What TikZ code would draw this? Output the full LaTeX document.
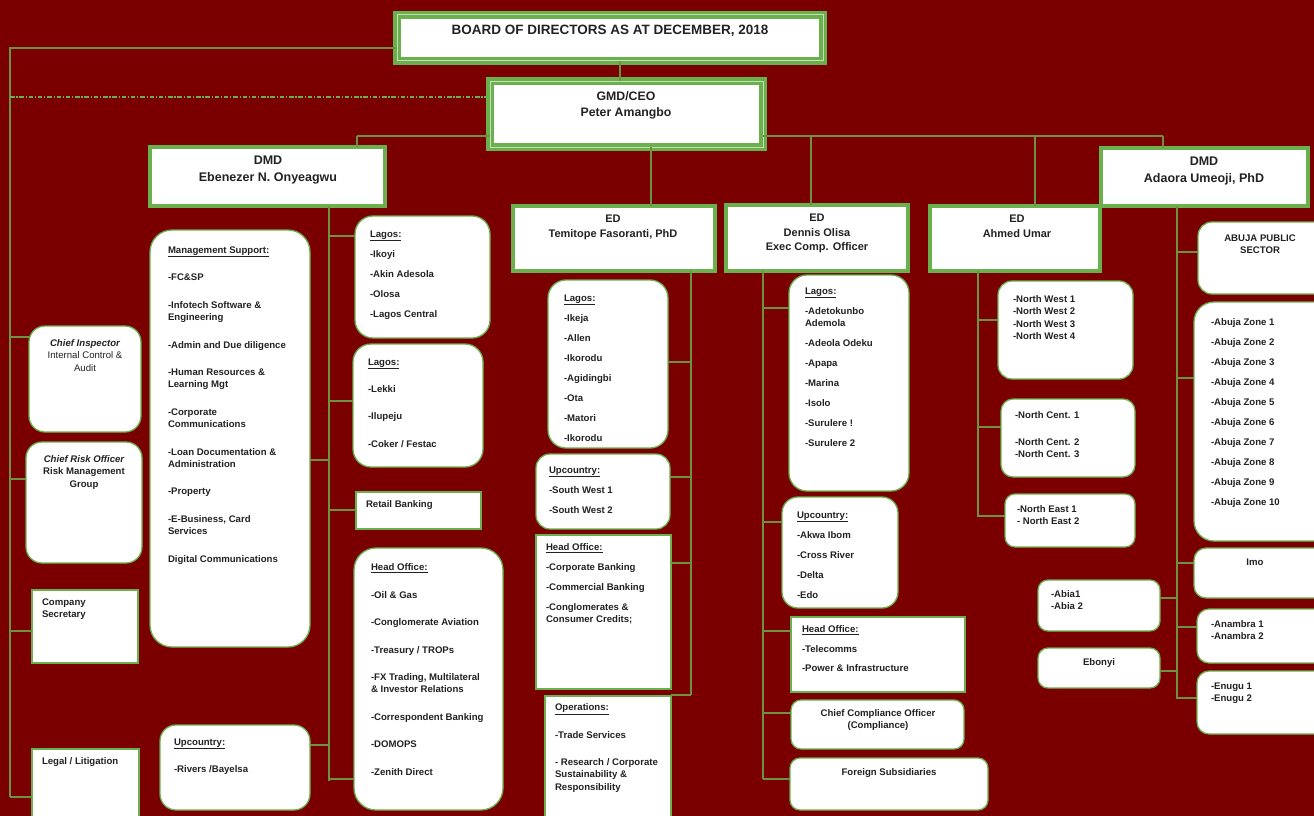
\documentclass[tikz,border=0pt]{standalone}
\usepackage{fontspec}
\setmainfont{Liberation Sans}
\definecolor{bg}{RGB}{122,0,0}
\definecolor{gr}{RGB}{106,176,76}
\definecolor{ln}{RGB}{112,146,62}
\definecolor{tx}{RGB}{34,34,34}
\tikzset{
 box/.style={draw=gr, line width=1.3pt, fill=white, inner sep=0pt, outer sep=0pt},
 rbox/.style={box, rounded corners=#1},
 rbox/.default=14pt,
 hbox/.style={draw=gr, line width=4pt, fill=white, inner sep=0pt, outer sep=0pt},
 tbox/.style={draw=gr, line width=3.2pt, double=gr!40!white, double distance=1pt, fill=white, inner sep=0pt, outer sep=0pt},
 txt/.style={inner sep=0pt, outer sep=0pt, text=tx, align=left, anchor=north west, font=\fontsize{9.6}{12.3}\selectfont\bfseries},
 ctxt/.style={txt, align=center, anchor=north},
 conn/.style={draw=ln, line width=1.2pt},
 ddot/.style={draw=gr, line width=1.5pt, dash pattern=on 4.5pt off 1.8pt on 1.2pt off 1.8pt},
}
\newcommand\bx[6]{\node[#6, minimum width={(#4-#2)*1pt}, minimum height={(#5-#3)*1pt}] (#1) at ({(#2+#4)/2},{(#3+#5)/2}) {};}
\newcommand\tl[4]{\node[txt] (#1) at (#2,{#3-3.45}) {#4};}
\newcommand\tc[4]{\node[ctxt] (#1) at (#2,{#3-3.45}) {#4};}
\newcommand\br[3]{\draw[conn] (#1 |- 0,#3) -- (#2 |- 0,#3);}
\newcommand\ul[1]{\underline{#1}}
\begin{document}
\begin{tikzpicture}[x=1pt,y=-1pt]
\useasboundingbox (0,0) rectangle (1314,816);
\clip (0,0) rectangle (1314,816);
\fill[bg] (0,0) rectangle (1314,816);

% trunk coordinates
\coordinate (tL) at (10,0);
\coordinate (tE) at (329,0);
\coordinate (tT) at (691,0);
\coordinate (tD) at (763,0);
\coordinate (tA) at (978,0);
\coordinate (tU) at (1177,0);
\coordinate (hb) at (357,136);
\coordinate (hd) at (811,136);
\coordinate (ha) at (1035,136);
\coordinate (he) at (1163,136);
\coordinate (gt) at (651,0);
\coordinate (bt) at (620,0);

% header boxes
\bx{board}{397}{15}{823}{61}{tbox}
\bx{gmd}{490}{81}{763}{147}{tbox}
\bx{ebd}{150}{147}{385}{206}{hbox}
\bx{ada}{1101}{148}{1308}{206}{hbox}
\bx{edt}{513}{206}{715}{271}{hbox}
\bx{edd}{726}{205}{908}{271}{hbox}
\bx{eda}{930}{206}{1100}{271}{hbox}

% left column
\bx{ci}{29}{326}{141}{432}{rbox=16pt}
\bx{cro}{26}{442}{142}{563}{rbox=16pt}
\bx{cs}{32}{590}{138}{663}{box}
\bx{ll}{32}{749}{139}{830}{box}

% Ebenezer
\bx{ms}{150}{230}{310}{647}{rbox=22pt}
\bx{el1}{355}{216}{490}{338}{rbox=18pt}
\bx{el2}{353}{344}{483}{467}{rbox=18pt}
\bx{rb}{356}{492}{481}{529}{box}
\bx{eh}{354}{548}{503}{810}{rbox=22pt}
\bx{eu}{160}{725}{310}{810}{rbox=16pt}

% Temitope
\bx{tl}{548}{280}{668}{448}{rbox=18pt}
\bx{tu}{536}{454}{670}{529}{rbox=14pt}
\bx{th}{536}{535}{671}{689}{box}
\bx{op}{545}{696}{671}{830}{box}

% Dennis
\bx{dl}{789}{275}{909}{491}{rbox=18pt}
\bx{du}{782}{497}{898}{608}{rbox=16pt}
\bx{dh}{791}{617}{965}{692}{box}
\bx{cco}{791}{700}{964}{749}{rbox=10pt}
\bx{fs}{790}{758}{988}{810}{rbox=10pt}

% Ahmed
\bx{nw}{998}{281}{1133}{379}{rbox=14pt}
\bx{nc}{1001}{399}{1135}{477}{rbox=12pt}
\bx{ne}{1005}{494}{1135}{547}{rbox=10pt}

% Adaora
\bx{aps}{1198}{222}{1340}{294}{rbox=14pt}
\bx{az}{1194}{302}{1340}{541}{rbox=20pt}
\bx{imo}{1194}{548}{1340}{598}{rbox=12pt}
\bx{an}{1197}{609}{1340}{663}{rbox=12pt}
\bx{en}{1197}{671}{1340}{734}{rbox=12pt}
\bx{abia}{1038}{580}{1160}{631}{rbox=10pt}
\bx{ebo}{1038}{648}{1160}{688}{rbox=10pt}

% connectors: top
\draw[conn] (board.south -| bt) -- (gmd.north -| bt);
\draw[conn] (board.west |- 0,48) -- (tL |- 0,48) -- (tL |- 0,797);
\draw[ddot] (tL |- 0,97) -- (gmd.west |- 0,97);
\draw[conn] (hb) -- (gmd.west |- hb);
\draw[conn] (gmd.east |- hb) -- (he);
\draw[conn] (hb) -- (ebd.north -| hb);
\draw[conn] (hd) -- (edd.north -| hd);
\draw[conn] (ha) -- (eda.north -| ha);
\draw[conn] (he) -- (ada.north -| he);
\draw[conn] (gmd.south -| gt) -- (edt.north -| gt);

% left branches
\br{tL}{ci.west}{337}
\br{tL}{cro.west}{479}
\br{tL}{cs.west}{631}
\br{tL}{ll.west}{797}

% Ebenezer trunk
\draw[conn] (ebd.south -| tE) -- (tE |- 0,781);
\br{tE}{el1.west}{236}
\br{tE}{el2.west}{401}
\br{tE}{ms.east}{460}
\br{tE}{rb.west}{510}
\br{tE}{eu.east}{745}
\br{tE}{eh.west}{779}

% Temitope trunk
\draw[conn] (edt.south -| tT) -- (tT |- 0,695);
\br{tT}{tl.east}{362}
\br{tT}{tu.east}{477}
\br{tT}{th.east}{563}
\br{tT}{op.east}{695}

% Dennis trunk
\draw[conn] (edd.south -| tD) -- (tD |- 0,779);
\br{tD}{dl.west}{308}
\br{tD}{du.west}{522}
\br{tD}{dh.west}{631}
\br{tD}{cco.west}{713}
\br{tD}{fs.west}{779}

% Ahmed trunk
\draw[conn] (eda.south -| tA) -- (tA |- 0,517);
\br{tA}{nw.west}{320}
\br{tA}{nc.west}{427}
\br{tA}{ne.west}{516}

% Adaora trunk
\draw[conn] (ada.south -| tU) -- (tU |- 0,699);
\br{tU}{aps.west}{252}
\br{tU}{az.west}{378}
\br{tU}{imo.west}{563}
\br{tU}{abia.east}{598}
\br{tU}{an.west}{627}
\br{tU}{ebo.east}{671}
\br{tU}{en.west}{698}

% header texts
\node[ctxt, font=\fontsize{13.5}{16}\selectfont\bfseries] (board-t) at (610,{30-4.8}) {BOARD OF DIRECTORS AS AT DECEMBER, 2018};
\node[ctxt, font=\fontsize{12.3}{16}\selectfont\bfseries] (gmd-t) at (626,{96-4.4}) {GMD/CEO\\Peter Amangbo};
\node[ctxt, font=\fontsize{12.5}{17}\selectfont\bfseries] (ebd-t) at (268,{160-4.5}) {DMD\\Ebenezer N. Onyeagwu};
\node[ctxt, font=\fontsize{12.5}{17}\selectfont\bfseries] (ada-t) at (1204,{161.5-4.5}) {DMD\\Adaora Umeoji, PhD};
\node[ctxt, font=\fontsize{11}{14.5}\selectfont\bfseries] (edt-t) at (613,{219-3.9}) {ED\\Temitope Fasoranti, PhD};
\node[ctxt, font=\fontsize{11}{14.5}\selectfont\bfseries] (edd-t) at (817,{218-3.9}) {ED\\Dennis Olisa\\Exec Comp. Officer};
\node[ctxt, font=\fontsize{11}{14.5}\selectfont\bfseries] (eda-t) at (1017,{219-3.9}) {ED\\Ahmed Umar};

% left column texts
\tc{ci-t}{85}{343}{{\itshape Chief Inspector}\\{\mdseries Internal Control \&}\\{\mdseries Audit}}
\tc{cro-t}{84}{459}{{\itshape Chief Risk Officer}\\Risk Management\\Group}
\tl{cs-t}{42}{602}{Company\\Secretary}
\tl{ll-t}{42}{761}{Legal / Litigation}

% Ebenezer texts
\tl{ms-t}{168}{250}{\ul{Management Support:}\\[15.2pt]-FC\&SP\\[15.2pt]-Infotech Software \&\\Engineering\\[15.2pt]-Admin and Due diligence\\[15.2pt]-Human Resources \&\\Learning Mgt\\[15.2pt]-Corporate\\Communications\\[15.2pt]-Loan Documentation \&\\Administration\\[15.2pt]-Property\\[15.2pt]-E-Business, Card\\Services\\[15.2pt]Digital Communications}
\tl{el1-t}{370}{234}{\ul{Lagos:}\\[7.7pt]-Ikoyi\\[7.7pt]-Akin Adesola\\[7.7pt]-Olosa\\[7.7pt]-Lagos Central}
\tl{el2-t}{368}{362}{\ul{Lagos:}\\[15pt]-Lekki\\[15pt]-Ilupeju\\[15pt]-Coker / Festac}
\tl{rb-t}{366}{504}{Retail Banking}
\tl{eh-t}{371}{567}{\ul{Head Office:}\\[15.2pt]-Oil \& Gas\\[15.2pt]-Conglomerate Aviation\\[15.2pt]-Treasury / TROPs\\[15.2pt]-FX Trading, Multilateral\\\& Investor Relations\\[15.2pt]-Correspondent Banking\\[15.2pt]-DOMOPS\\[15.2pt]-Zenith Direct}
\tl{eu-t}{174}{742}{\ul{Upcountry:}\\[14.7pt]-Rivers /Bayelsa}

% Temitope texts
\tl{tl-t}{564}{298}{\ul{Lagos:}\\[7.7pt]-Ikeja\\[7.7pt]-Allen\\[7.7pt]-Ikorodu\\[7.7pt]-Agidingbi\\[7.7pt]-Ota\\[7.7pt]-Matori\\[7.7pt]-Ikorodu}
\tl{tu-t}{549}{470}{\ul{Upcountry:}\\[7.7pt]-South West 1\\[7.7pt]-South West 2}
\tl{th-t}{546}{547}{\ul{Head Office:}\\[7.7pt]-Corporate Banking\\[7.7pt]-Commercial Banking\\[7.7pt]-Conglomerates \&\\Consumer Credits;}
\tl{op-t}{555}{707}{\ul{Operations:}\\[15.2pt]-Trade Services\\[15.2pt]- Research / Corporate\\Sustainability \&\\Responsibility}

% Dennis texts
\tl{dl-t}{805}{291}{\ul{Lagos:}\\[7.7pt]-Adetokunbo\\Ademola\\[7.7pt]-Adeola Odeku\\[7.7pt]-Apapa\\[7.7pt]-Marina\\[7.7pt]-Isolo\\[7.7pt]-Surulere !\\[7.7pt]-Surulere 2}
\tl{du-t}{797}{515}{\ul{Upcountry:}\\[7.7pt]-Akwa Ibom\\[7.7pt]-Cross River\\[7.7pt]-Delta\\[7.7pt]-Edo}
\tl{dh-t}{802}{629}{\ul{Head Office:}\\[7.3pt]-Telecomms\\[7.3pt]-Power \& Infrastructure}
\tc{cco-t}{878}{713}{Chief Compliance Officer\\(Compliance)}
\tc{fs-t}{889}{772}{Foreign Subsidiaries}

% Ahmed texts
\tl{nw-t}{1013}{299}{-North West 1\\-North West 2\\-North West 3\\-North West 4}
\tl{nc-t}{1015}{415}{-North Cent. 1\\[14.7pt]-North Cent. 2\\-North Cent. 3}
\tl{ne-t}{1017}{509}{-North East 1\\- North East 2}

% Adaora texts
\tc{aps-t}{1260}{238}{ABUJA PUBLIC\\SECTOR}
\tl{az-t}{1211}{322}{-Abuja Zone 1\\[7.7pt]-Abuja Zone 2\\[7.7pt]-Abuja Zone 3\\[7.7pt]-Abuja Zone 4\\[7.7pt]-Abuja Zone 5\\[7.7pt]-Abuja Zone 6\\[7.7pt]-Abuja Zone 7\\[7.7pt]-Abuja Zone 8\\[7.7pt]-Abuja Zone 9\\[7.7pt]-Abuja Zone 10}
\tc{imo-t}{1255}{562}{Imo}
\tl{an-t}{1211}{624}{-Anambra 1\\-Anambra 2}
\tl{en-t}{1211}{686}{-Enugu 1\\-Enugu 2}
\tl{abia-t}{1051}{594}{-Abia1\\-Abia 2}
\tc{ebo-t}{1099}{662}{Ebonyi}
\end{tikzpicture}
\end{document}
